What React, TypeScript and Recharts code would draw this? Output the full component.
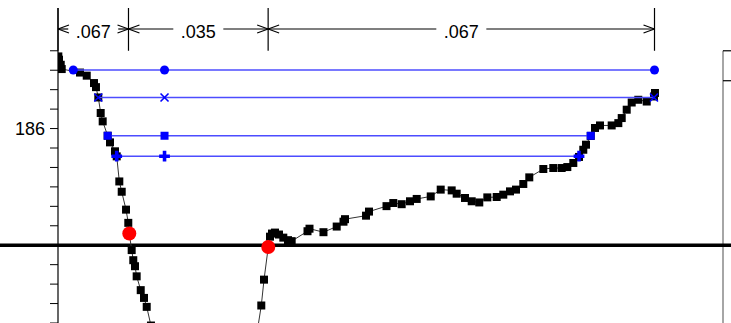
import React from 'react';
import {
  ComposedChart,
  Scatter,
  XAxis,
  YAxis,
  ZAxis,
  ReferenceLine,
  ReferenceDot,
} from 'recharts';

// black trace, left (falling) branch
const leftX = [0.05, 0.15, 0.41, 0.56, 3.31, 4.32, 5.41, 5.71, 6.06, 6.42, 6.72, 7.47, 7.82, 8.57, 8.83, 9.22, 9.58, 10.23, 10.57, 10.72, 11.08, 11.32, 11.58, 11.83, 12.44, 12.93, 13.34, 13.98];
const leftY = [189.71, 189.54, 189.28, 189.06, 188.88, 188.72, 188.34, 188.13, 187.6, 186.8, 186.37, 185.63, 185.29, 184.83, 184.57, 183.28, 182.75, 181.83, 181.15, 180.6, 179.75, 179.23, 178.92, 178.4, 177.69, 177.29, 176.83, 175.87];

// black trace, right (rising) branch
const rightX = [30.0, 30.57, 30.98, 31.62, 31.88, 32.18, 32.63, 33.23, 33.88, 34.59, 35.14, 37.52, 37.82, 39.92, 41.91, 42.93, 43.16, 46.32, 46.77, 49.4, 50.42, 51.68, 52.93, 53.94, 56.05, 57.55, 59.2, 59.95, 61.2, 62.21, 63.35, 64.56, 65.97, 66.96, 67.97, 68.87, 69.97, 70.87, 72.98, 74.48, 75.74, 76.59, 77.49, 78.35, 78.99, 79.4, 80.11, 80.75, 81.5, 83.26, 84.26, 84.77, 85.52, 86.27, 87.26, 88.53, 89.62, 89.77];
const rightY = [175.66, 176.9, 178.23, 179.91, 180.44, 180.6, 180.65, 180.55, 180.39, 180.26, 180.21, 180.72, 180.85, 180.67, 180.96, 181.21, 181.34, 181.52, 181.73, 182.01, 182.17, 182.11, 182.26, 182.38, 182.51, 182.86, 182.82, 182.65, 182.43, 182.26, 182.2, 182.46, 182.48, 182.6, 182.77, 182.86, 183.15, 183.49, 183.92, 183.97, 183.97, 184.02, 184.23, 184.54, 184.91, 185.17, 185.62, 186.03, 186.16, 186.16, 186.28, 186.54, 186.97, 187.34, 187.48, 187.39, 187.65, 187.83];

// blue level lines
const levelY = [189.01, 187.6, 185.63, 184.58];
const levelStartX = [2.3, 6.06, 7.47, 8.83];
const levelMidX = 16.02;
const levelEndX = [89.7, 89.62, 80.11, 78.35];
const levelShapes = ['circle', 'x', 'square', 'cross'];

// red crossings
const crossX = [10.72, 31.62];
const crossY = [180.6, 179.91];

// dimension annotations
const dimX = [0, 10.6, 31.6, 89.7];
const dimLabels = ['.067', '.035', '.067'];

const yTicks = [176, 177, 178, 179, 180, 181, 182, 183, 184, 185, 186, 187, 188, 189, 190];

const zip = (xs: number[], ys: number[]) => xs.map((x, i) => ({ x, y: ys[i] }));

const XMark = (props: any) => {
  const { cx, cy } = props;
  const s = 4;
  return (
    <path
      d={`M${cx - s},${cy - s}L${cx + s},${cy + s}M${cx - s},${cy + s}L${cx + s},${cy - s}`}
      stroke="#0000ff"
      strokeWidth={1.6}
    />
  );
};

const RedDot = (props: any) => <circle cx={props.cx} cy={props.cy} r={7} fill="#ff0000" />;

const DIM_Y = 191.12;
const DIM_LABEL_Y = 190.97;
const ARROW_W = 1.65;
const ARROW_H = 0.206;
const GAP = 3.76;

export default function App() {
  const dimParts: React.ReactNode[] = [];
  dimX.forEach((x, i) => {
    dimParts.push(
      <ReferenceLine
        key={`v${i}`}
        segment={[{ x, y: 190 }, { x, y: 192.2 }]}
        stroke="#000"
        strokeWidth={1.2}
        ifOverflow="visible"
      />
    );
  });
  dimLabels.forEach((label, i) => {
    const a = dimX[i];
    const b = dimX[i + 1];
    const c = (a + b) / 2;
    const segs = [
      [a, DIM_Y, c - GAP, DIM_Y],
      [c + GAP, DIM_Y, b, DIM_Y],
      [a, DIM_Y, a + ARROW_W, DIM_Y + ARROW_H],
      [a, DIM_Y, a + ARROW_W, DIM_Y - ARROW_H],
      [b, DIM_Y, b - ARROW_W, DIM_Y + ARROW_H],
      [b, DIM_Y, b - ARROW_W, DIM_Y - ARROW_H],
    ];
    segs.forEach((s, j) => {
      dimParts.push(
        <ReferenceLine
          key={`d${i}-${j}`}
          segment={[{ x: s[0], y: s[1] }, { x: s[2], y: s[3] }]}
          stroke="#000"
          strokeWidth={1.2}
          ifOverflow="visible"
        />
      );
    });
    dimParts.push(
      <ReferenceDot
        key={`l${i}`}
        x={c}
        y={DIM_LABEL_Y}
        r={0}
        fill="none"
        stroke="none"
        ifOverflow="visible"
        label={{ value: label, position: 'center', fontSize: 18, fill: '#000' }}
      />
    );
  });

  return (
    <div
      style={{
        position: 'absolute',
        left: 0,
        top: 0,
        width: 731,
        height: 323,
        overflow: 'hidden',
        background: '#fff',
        fontFamily: '"Liberation Sans", Arial, sans-serif',
      }}
    >
      <ComposedChart width={731} height={323} margin={{ top: 8, right: 0, bottom: 0, left: 0 }}>
        <XAxis type="number" dataKey="x" domain={[0, 100]} hide allowDataOverflow />
        <YAxis
          type="number"
          dataKey="y"
          domain={[176, 192.2]}
          allowDataOverflow
          width={58}
          ticks={yTicks}
          tickSize={8}
          tickMargin={5}
          interval={0}
          tickFormatter={(v: number) => (v === 186 ? '186' : '')}
          tick={{ fontSize: 18, fill: '#000' }}
          axisLine={{ stroke: '#000', strokeWidth: 1.2 }}
          tickLine={{ stroke: '#000' }}
        />
        <YAxis
          yAxisId="r"
          orientation="right"
          type="number"
          domain={[176, 192.2]}
          allowDataOverflow
          width={8}
          ticks={[190, 188.46]}
          interval={0}
          tickSize={8}
          tickFormatter={() => ''}
          axisLine={false}
          tickLine={{ stroke: '#000', strokeWidth: 1.2 }}
        />
        <ZAxis range={[44, 44]} />

        <ReferenceLine
          segment={[{ x: 100, y: 190 }, { x: 100, y: 176 }]}
          stroke="#888"
          strokeWidth={1.5}
          ifOverflow="visible"
        />
        <ReferenceLine
          segment={[{ x: -9, y: 180 }, { x: 102, y: 180 }]}
          stroke="#000"
          strokeWidth={3.5}
          ifOverflow="visible"
        />
        {dimParts}

        <Scatter
          data={zip(leftX, leftY)}
          shape="square"
          fill="#000"
          line={{ stroke: '#333', strokeWidth: 1 }}
          isAnimationActive={false}
        />
        <Scatter
          data={zip(rightX, rightY)}
          shape="square"
          fill="#000"
          line={{ stroke: '#333', strokeWidth: 1 }}
          isAnimationActive={false}
        />

        {levelY.map((y, i) => (
          <Scatter
            key={`lvl${i}`}
            data={[
              { x: levelStartX[i], y },
              { x: levelMidX, y },
              { x: levelEndX[i], y },
            ]}
            shape={levelShapes[i] === 'x' ? XMark : (levelShapes[i] as any)}
            fill="#0000ff"
            line={{ stroke: '#4d4dff', strokeWidth: 1.5 }}
            isAnimationActive={false}
          />
        ))}

        <Scatter
          data={zip(crossX, crossY)}
          shape={RedDot}
          fill="#ff0000"
          isAnimationActive={false}
        />
      </ComposedChart>
    </div>
  );
}
